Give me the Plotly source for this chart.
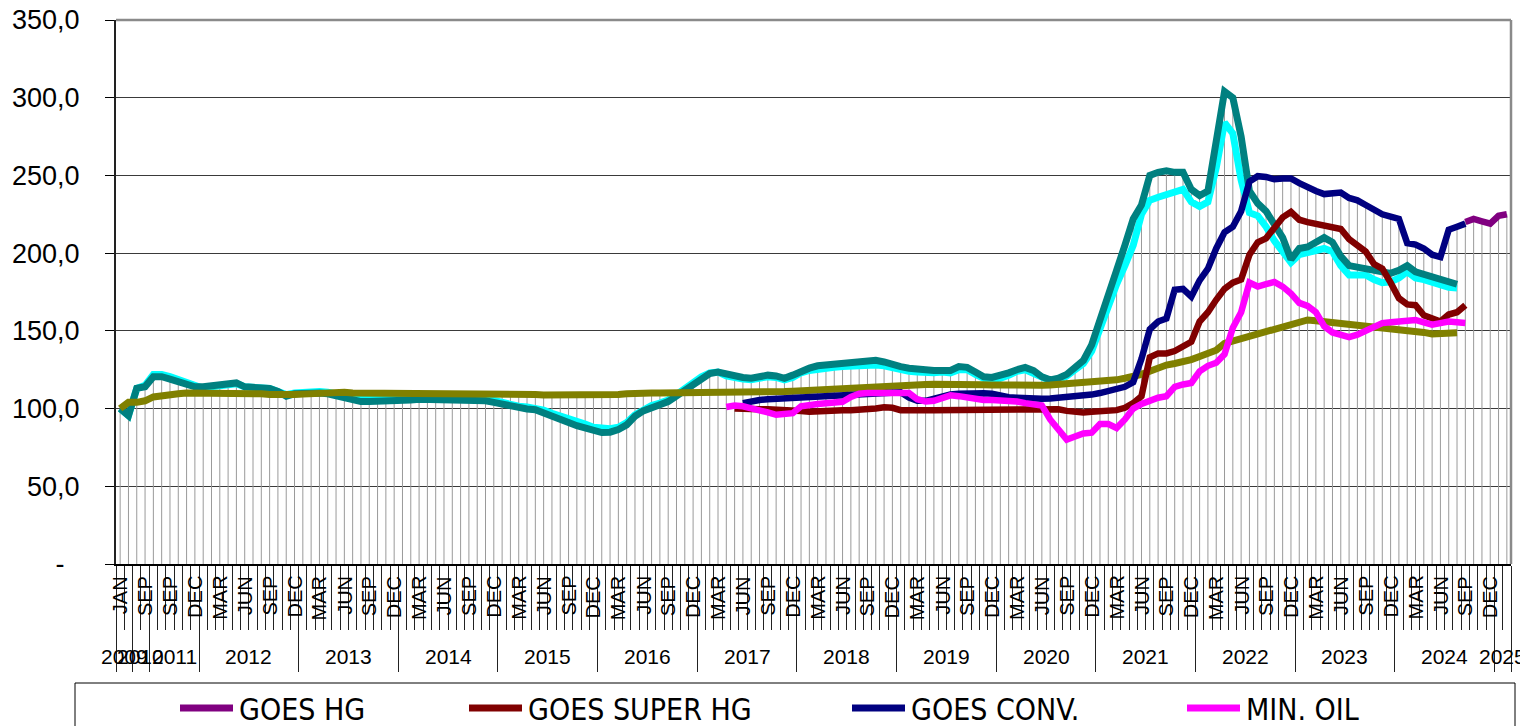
import plotly.graph_objects as go

# ---------------- categories ----------------
year_labels = ["2009", "2010", "2011", "2012", "2013", "2014", "2015", "2016",
               "2017", "2018", "2019", "2020", "2021", "2022", "2023", "2024", "2025"]
year_sizes = [2, 2, 6, 12, 12, 12, 12, 12, 12, 12, 12, 12, 12, 12, 12, 12, 2]
# month labels shown on every 3rd category
month_labels = ["JAN", "SEP", "SEP", "DEC",
                "MAR", "JUN", "SEP", "DEC", "MAR", "JUN", "SEP", "DEC",
                "MAR", "JUN", "SEP", "DEC", "MAR", "JUN", "SEP", "DEC",
                "MAR", "JUN", "SEP", "DEC", "MAR", "JUN", "SEP", "DEC",
                "MAR", "JUN", "SEP", "DEC", "MAR", "JUN", "SEP", "DEC",
                "MAR", "JUN", "SEP", "DEC", "MAR", "JUN", "SEP", "DEC",
                "MAR", "JUN", "SEP", "DEC", "MAR", "JUN", "SEP", "DEC",
                "MAR", "JUN", "SEP", "DEC"]
label_step = 3

y_tickvals = [0, 50, 100, 150, 200, 250, 300, 350]
y_ticktext = ["-\u00a0\u00a0", "50,0", "100,0", "150,0", "200,0", "250,0", "300,0", "350,0"]

# ---------------- series (index values) ----------------
teal_start = 0
teal_vals = [100, 95.5, 113, 114, 120.5, 120.5, 119, 117.5, 116, 114,
             114, 114.5, 115, 115.5, 116.5, 114, 113.8, 113.5, 113, 111, 108, 109.5,
             110, 110, 110, 109.5, 108, 106.5, 105, 104.5, 104.5, 104.5, 104.5, 105,
             105, 105.5, 106, 106, 106, 106, 106, 106, 105.5, 105, 105, 104,
             103, 101, 100, 99.7, 99.3, 97.5, 95.5, 93.5, 91, 89, 87.5, 85.8,
             84.6, 84.8, 86.5, 89.5, 95, 98.5, 101, 102.5, 104.5, 108, 112, 116,
             119.5, 122.5, 123.5, 122, 120.5, 120, 119.5, 121, 121.5, 121, 119.5, 121.5,
             124, 126, 127.5, 128, 129, 129.5, 130, 130, 130, 131, 130, 128,
             127, 126, 125, 125, 124.5, 125, 124.5, 127, 126.5, 123.5, 120.5, 120,
             121, 123, 125, 126.5, 124.5, 120.5, 118.5, 119.5, 122, 126, 131, 141,
             158, 172, 189, 205, 222, 231, 250, 252, 253, 252, 252, 241,
             237, 240, 272, 304, 300, 275, 240, 232, 227, 219, 210, 196,
             203, 204, 207, 210, 207, 198, 192, 191, 190, 189, 187, 187,
             189, 192, 188, 186.5, 185, 183, 181.5, 180]

cyan_start = 0
cyan_vals = [100, 95.5, 113, 115, 122, 122, 120.5, 118.5, 116.5, 114,
             113, 114, 115, 115.5, 116, 114, 114, 114, 113, 111, 109, 110,
             110.5, 111, 111, 110.5, 109.5, 108, 107, 106.5, 106.5, 106.5, 106.5, 107,
             107, 107.5, 108, 108.5, 108.5, 108.5, 108, 108, 107.5, 107, 106.5, 105,
             104, 102.5, 101.5, 101, 100.5, 99, 97, 95.5, 93, 91.5, 90, 88,
             87, 87, 88, 91, 96, 99.5, 102, 103.5, 105.5, 109, 113, 117,
             120.5, 123, 123.5, 121, 119.5, 119, 118.5, 120, 120.5, 120, 118.5, 120,
             123, 124.5, 125.5, 126, 126.5, 127, 127.5, 127.5, 127.5, 128, 127.5, 126,
             125, 124, 123.5, 123, 123, 123.5, 123, 125, 125, 122, 119.5, 119,
             119.5, 121.5, 124, 125, 123, 120, 118, 118.5, 121, 125, 129, 137,
             152, 165, 180, 192, 205, 225, 234, 236, 238, 239, 241, 233,
             230, 233, 255, 284, 277, 247, 226, 224, 217, 208, 200, 194,
             199, 200, 202, 203, 201, 192, 186, 186, 186, 183, 181, 181.5,
             184, 188, 184, 183, 181.5, 179, 178, 177.5]

olive_start = 0
olive_vals = [100, 104, 104, 105, 107.5, 108.5, 109, 109.5, 110, 110,
              110, 110, 110, 110, 110.2, 110.2, 110, 109.5, 109, 108.7, 108.7, 109,
              109.3, 109.5, 110, 110.5, 111, 110.5, 110, 110, 110, 109.8, 109.8, 109.8,
              109.8, 109.6, 109.5, 109.4, 109.4, 109.4, 109.4, 109.4, 109.4, 109.4, 109.4, 109.4,
              109.4, 109.2, 109, 109, 109, 108.8, 108.7, 108.7, 108.7, 108.7, 108.7, 108.7,
              108.7, 108.8, 109, 109.5, 110, 110, 110, 110, 110, 110, 110, 110,
              110, 110, 110.2, 110.5, 110.5, 110.7, 110.8, 111, 111, 111, 111, 111.2,
              111.5, 112, 112.5, 113, 113, 113.2, 113.5, 113.8, 114, 114.3, 114.5, 114.8,
              115, 115.2, 115.5, 115.5, 115.7, 115.8, 115.8, 115.8, 115.8, 115.5, 115.3, 115.2,
              115, 115, 115, 115, 115, 115, 115.2, 115.5, 115.8, 116, 116.5, 117,
              117.5, 118, 118.5, 119.5, 120.5, 122, 124, 126.5, 128, 129, 130, 131.5,
              133.5, 135.5, 137.5, 142, 143.5, 144.5, 146, 147.5, 149.5, 151, 152.5, 154,
              155.5, 157, 156.5, 156, 155.5, 155, 154.5, 154, 153.5, 153, 152, 151.5,
              151, 150, 149.5, 149, 148, 148, 148.5, 148.8]

conv_start = 75
goes_conv = [103.5, 105, 105.5, 106, 106.3, 106.5, 107,
             107.3, 107.5, 108, 108.3, 108.5, 108.7, 109, 109.3, 109.4, 110, 110.5, 111,
             110.5, 107, 105, 105, 106.5, 108.5, 109, 109.5, 109.8, 109.8, 109.8, 109.5,
             108, 107.3, 107, 106.5, 106.3, 106.3, 106.5, 107, 107, 107.2, 107.5, 109,
             110, 111, 112, 114, 117, 132, 151, 156, 158, 176.5, 177, 172,
             182.5, 190, 203, 213.5, 217, 227, 246, 249.5, 249, 247.5, 248, 248,
             245, 242, 240, 238, 238.5, 239, 235.5, 234, 231, 228, 225, 223.5,
             222, 206.5, 205.5, 203, 199, 197.5, 215, 217, 219]

super_start = 74
goes_super_hg = [100, 99.5, 99.5, 99.5, 99.5, 99.5, 99.5, 99,
                 98.5, 98, 98.5, 98.8, 99, 99, 99, 99, 99.5, 100, 100.8, 100.5,
                 99, 98.7, 99, 99, 99, 99, 99, 99, 99, 99.5, 99.5, 100,
                 100, 99.5, 99, 99, 99, 99.5, 100, 99.5, 98.5, 97.5, 97.5, 98,
                 98, 98, 99, 100.5, 103.5, 108, 133, 135.5, 135.5, 137, 140, 143,
                 156, 162, 170, 177, 181, 183, 199, 207, 209.5, 217, 223, 226.5,
                 221.5, 220, 219, 218, 217, 215.5, 209, 205, 201, 193, 190, 181,
                 171, 167, 166.5, 160, 158, 156, 160.5, 162, 166.5]

oil_start = 73
min_oil = [101, 102, 101.5, 100.5, 99, 97.5, 96, 96, 97,
           101.5, 102.5, 103, 103.4, 104, 104.4, 107.5, 109.5, 110, 110, 110, 110,
           110.5, 110, 106, 104.5, 105, 107, 108.5, 108, 107, 106, 105.5, 105.5,
           105.5, 105.5, 104.5, 103.5, 103, 102, 93, 87, 80, 82, 84, 84.5,
           90, 90, 87.5, 93, 100, 103, 105.5, 107, 108, 114, 115.5, 116.5,
           124, 127.5, 129.5, 135, 152, 162, 181, 178.5, 180, 181.5, 178.5, 174,
           168, 166, 162, 153, 149, 147, 146, 147.5, 150, 153, 155, 155.5,
           156, 156.5, 157, 155.5, 154, 155, 156, 155.5, 155]

hg_start = 162
goes_hg = [220, 222, 220.5, 219, 224, 225]

series = [
    # name, start, values, color, width, in_legend
    ("GOES HG", hg_start, goes_hg, "#800080", 6.5, True),
    ("GOES SUPER HG", super_start, goes_super_hg, "#800000", 6.5, True),
    ("GOES CONV.", conv_start, goes_conv, "#000080", 6.5, True),
    ("MIN. OIL", oil_start, min_oil, "#FF00FF", 6.5, True),
    ("series 5", cyan_start, cyan_vals, "#00FFFF", 7, False),
    ("series 6", teal_start, teal_vals, "#008080", 7, False),
    ("series 7", olive_start, olive_vals, "#808000", 7, False),
]
draw_order = ["series 5", "series 6", "series 7", "GOES SUPER HG", "GOES CONV.", "MIN. OIL", "GOES HG"]

n_cat = sum(year_sizes)

# ---------------- geometry (page pixels; the html body adds an 8px offset) ----------------
OFF = 8
PAGE_W, PAGE_H = 1528, 726
PL, PR, PT, PB = 116, 1511, 20, 564          # plot area on the page
W, H = PAGE_W - OFF, PAGE_H - OFF
L, R, T, B = PL - OFF, PAGE_W - PR, PT - OFF, PAGE_H - PB
PW, PH = PR - PL, PB - PT


def px_x(p):
    return (p - PL) / PW


def px_y(p):
    return (PB - p) / PH


fig = go.Figure()

# drop lines: from axis to highest series value at each category
top = {}
for name, start, vals, color, width, leg in series:
    for k, v in enumerate(vals):
        i = start + k
        top[i] = max(top.get(i, 0), v)
dx, dy = [], []
for i in sorted(top):
    dx += [i, i, None]
    dy += [0, top[i], None]
fig.add_trace(go.Scatter(x=dx, y=dy, mode="lines", line=dict(color="#9a9a9a", width=1),
                         hoverinfo="skip", showlegend=False))

by_name = {s[0]: s for s in series}
for nm in draw_order:
    name, start, vals, color, width, leg = by_name[nm]
    fig.add_trace(go.Scatter(
        x=list(range(start, start + len(vals))), y=vals, mode="lines", name=name,
        line=dict(color=color, width=width, shape="linear"),
        showlegend=False))

# ---------------- axis labels ----------------
font_main = "Liberation Sans, Arial, sans-serif"
annotations = []
for j, lab in enumerate(month_labels):
    annotations.append(dict(x=j * label_step, y=px_y(574), xref="x", yref="paper",
                            text=lab, showarrow=False, textangle=-90,
                            xanchor="center", yanchor="top",
                            font=dict(family=font_main, size=20, color="black")))
boundaries = [-0.5]
pos = -0.5
for s in year_sizes:
    pos += s
    boundaries.append(pos)
for k, yl in enumerate(year_labels):
    c = (boundaries[k] + boundaries[k + 1]) / 2
    annotations.append(dict(x=c, y=px_y(656), xref="x", yref="paper", text=yl,
                            showarrow=False, xanchor="center", yanchor="middle",
                            font=dict(family=font_main, size=21, color="black")))

# ---------------- manual legend ----------------
shapes = []
legend_font = "Liberation Sans Narrow, Arial Narrow, DejaVu Sans Condensed, sans-serif"
legend_line_x = [180, 469, 852, 1187]
leg_y = 708
shapes.append(dict(type="rect", xref="paper", yref="paper",
                   x0=px_x(75), x1=px_x(1515), y0=px_y(683), y1=px_y(760),
                   line=dict(color="black", width=1), fillcolor="rgba(0,0,0,0)"))
legend_items = [s for s in series if s[5]]
for (name, start, vals, color, width, leg), lx in zip(legend_items, legend_line_x):
    shapes.append(dict(type="line", xref="paper", yref="paper",
                       x0=px_x(lx), x1=px_x(lx + 53), y0=px_y(leg_y), y1=px_y(leg_y),
                       line=dict(color=color, width=7)))
    annotations.append(dict(x=px_x(lx + 57), y=px_y(leg_y + 1), xref="paper", yref="paper",
                            text=name, showarrow=False, xanchor="left", yanchor="middle",
                            font=dict(family=legend_font, size=30, color="black")))

# plot frame top/right (gray)
shapes.append(dict(type="line", xref="paper", yref="paper", x0=0, x1=1, y0=1, y1=1,
                   line=dict(color="#8a8a8a", width=2.5)))
shapes.append(dict(type="line", xref="paper", yref="paper", x0=1, x1=1, y0=0, y1=1,
                   line=dict(color="#8a8a8a", width=2.5)))

fig.update_layout(
    width=W, height=H,
    margin=dict(l=L, r=R, t=T, b=B, pad=0, autoexpand=False),
    paper_bgcolor="white", plot_bgcolor="white",
    showlegend=False,
    annotations=annotations,
    shapes=shapes,
    xaxis=dict(range=[-0.5, n_cat - 0.5], showgrid=False, zeroline=False, automargin=False,
               showline=True, linecolor="black", linewidth=1.5,
               tickmode="array", tickvals=boundaries, ticks="outside",
               ticklen=106, tickwidth=1, tickcolor="#222222", showticklabels=False,
               minor=dict(tick0=-0.5, dtick=1, ticks="outside", ticklen=64,
                          tickwidth=1, tickcolor="#222222", showgrid=False)),
    yaxis=dict(range=[0, 350], tickmode="array", tickvals=y_tickvals, ticktext=y_ticktext,
               showgrid=True, gridcolor="#3a3a3a", gridwidth=1, zeroline=False, automargin=False,
               showline=True, linecolor="#222222", linewidth=2,
               ticks="outside", ticklen=9, tickwidth=1, tickcolor="black",
               ticklabelstandoff=20, ticklabeloverflow="allow",
               tickfont=dict(family=font_main, size=27, color="black")),
)

fig.write_html("out.html")
